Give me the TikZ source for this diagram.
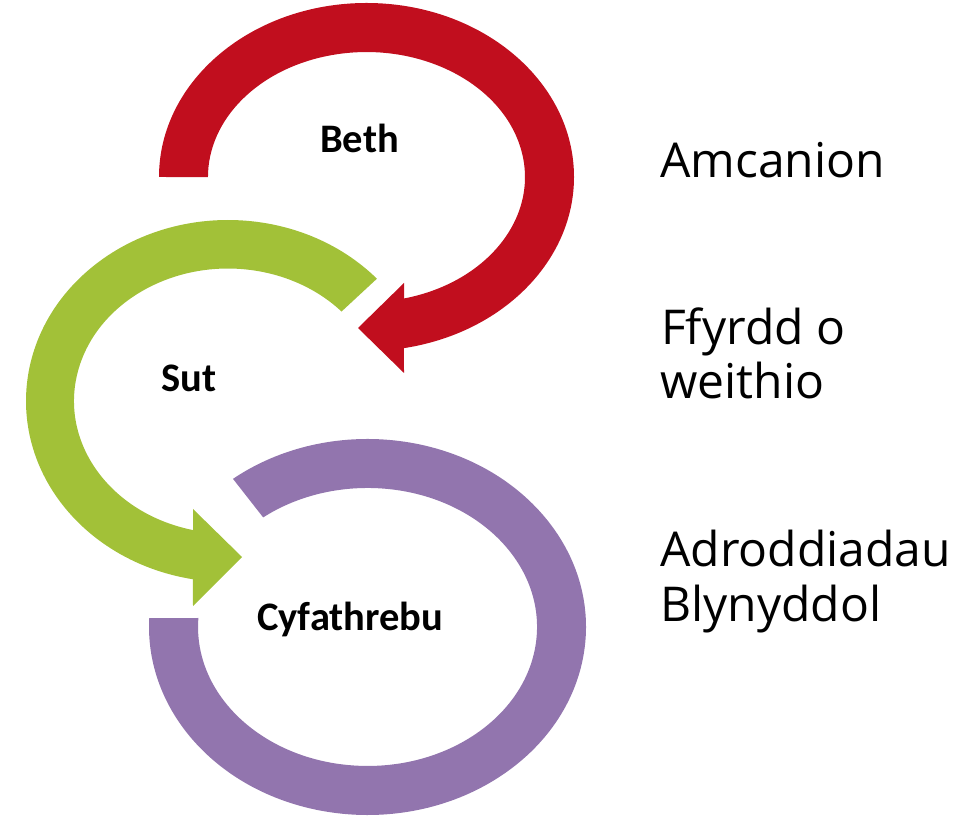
\documentclass[tikz,border=0pt]{standalone}
\usepackage{fontspec}
\setmainfont{Open Sans}
\newfontfamily\calib{Carlito}
\definecolor{redc}{RGB}{193,14,30}
\definecolor{greenc}{RGB}{162,193,56}
\definecolor{purplec}{RGB}{146,117,174}
\begin{document}
\begin{tikzpicture}[x=1pt,y=1pt,
  inlabel/.style={anchor=base west,inner sep=0pt,font=\calib\bfseries\fontsize{40.5}{46}\selectfont},
  sidelabel/.style={anchor=base west,inner sep=0pt,font=\fontsize{48}{55}\selectfont}]
\useasboundingbox (0,0) rectangle (971,816);
\coordinate (rc) at (366.5,639);
\coordinate (gc) at (228,415);
\coordinate (pc) at (367.5,189);
% red arrow
\fill[redc] (rc) ++(180:207.5 and 174)
  arc[start angle=180, end angle=-79.6, x radius=207.5, y radius=174]
  -- (404,443) -- (358,488) -- (404,533) -- (404,517.5)
  arc[start angle=-76.3, end angle=180, x radius=158.5, y radius=125] -- cycle;
% green arrow
\fill[greenc] (gc) ++(42.5:202 and 181)
  arc[start angle=42.5, end angle=260, x radius=202, y radius=181]
  -- (193,210) -- (242,259) -- (193,307) -- (193.1,285.9)
  arc[start angle=256.9, end angle=42.5, x radius=154, y radius=132.5] -- cycle;
% purple ring
\fill[purplec] (pc) ++(128:218.5 and 188)
  arc[start angle=128, end angle=-182.7, x radius=218.5, y radius=188]
  -- (198.4,198)
  arc[start angle=-183.7, end angle=128, x radius=169.5, y radius=139] -- cycle;
% labels
\node[inlabel] (beth) at (320,663) {Beth};
\node[inlabel] (sut) at (161,424) {Sut};
\node[inlabel] (cyf) at (257,185) {Cyfathrebu};
\node[sidelabel] (amc) at (660,638) {Amcanion};
\node[sidelabel] (ffa) at (661,471) {Ffyrdd o};
\node[sidelabel] (ffb) at (660,417) {weithio};
\node[sidelabel] (adra) at (660,249) {Adroddiadau};
\node[sidelabel] (adrb) at (660,194) {Blynyddol};
\end{tikzpicture}
\end{document}
